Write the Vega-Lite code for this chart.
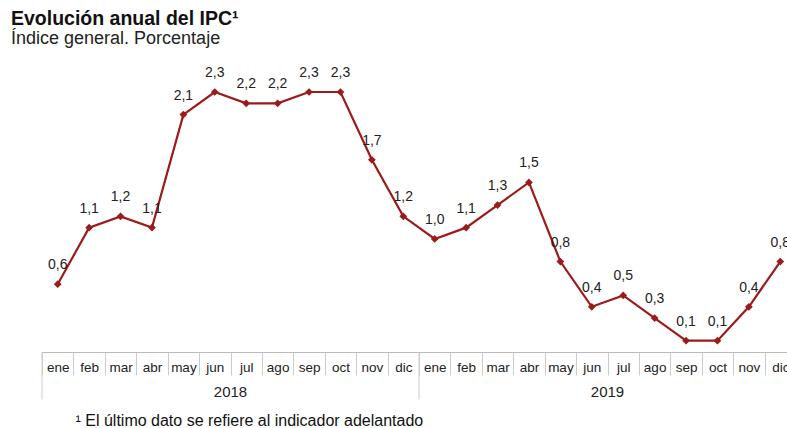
{
  "$schema": "https://vega.github.io/schema/vega-lite/v6.json",
  "width": 754,
  "height": 260,
  "autosize": "none",
  "padding": {"left": 42, "top": 92, "right": 0, "bottom": 76},
  "config": {
    "font": "Liberation Sans",
    "view": {"stroke": null},
    "locale": {"number": {"decimal": ",", "thousands": ".", "grouping": [3], "currency": ["", " €"]}}
  },
  "title": {
    "text": "Evolución anual del IPC¹",
    "subtitle": "Índice general. Porcentaje",
    "anchor": "start",
    "frame": "group",
    "dx": -31,
    "offset": 17,
    "fontSize": 19.5,
    "fontWeight": "bold",
    "color": "#111111",
    "subtitleFontSize": 18,
    "subtitleColor": "#222222",
    "subtitlePadding": 1
  },
  "data": {
    "values": [
      {"key": "2018-ene", "mes": "ene", "year": "2018", "v": 0.6},
      {"key": "2018-feb", "mes": "feb", "year": "2018", "v": 1.1},
      {"key": "2018-mar", "mes": "mar", "year": "2018", "v": 1.2},
      {"key": "2018-abr", "mes": "abr", "year": "2018", "v": 1.1},
      {"key": "2018-may", "mes": "may", "year": "2018", "v": 2.1},
      {"key": "2018-jun", "mes": "jun", "year": "2018", "v": 2.3},
      {"key": "2018-jul", "mes": "jul", "year": "2018", "v": 2.2},
      {"key": "2018-ago", "mes": "ago", "year": "2018", "v": 2.2},
      {"key": "2018-sep", "mes": "sep", "year": "2018", "v": 2.3},
      {"key": "2018-oct", "mes": "oct", "year": "2018", "v": 2.3},
      {"key": "2018-nov", "mes": "nov", "year": "2018", "v": 1.7},
      {"key": "2018-dic", "mes": "dic", "year": "2018", "v": 1.2},
      {"key": "2019-ene", "mes": "ene", "year": "2019", "v": 1.0},
      {"key": "2019-feb", "mes": "feb", "year": "2019", "v": 1.1},
      {"key": "2019-mar", "mes": "mar", "year": "2019", "v": 1.3},
      {"key": "2019-abr", "mes": "abr", "year": "2019", "v": 1.5},
      {"key": "2019-may", "mes": "may", "year": "2019", "v": 0.8},
      {"key": "2019-jun", "mes": "jun", "year": "2019", "v": 0.4},
      {"key": "2019-jul", "mes": "jul", "year": "2019", "v": 0.5},
      {"key": "2019-ago", "mes": "ago", "year": "2019", "v": 0.3},
      {"key": "2019-sep", "mes": "sep", "year": "2019", "v": 0.1},
      {"key": "2019-oct", "mes": "oct", "year": "2019", "v": 0.1},
      {"key": "2019-nov", "mes": "nov", "year": "2019", "v": 0.4},
      {"key": "2019-dic", "mes": "dic", "year": "2019", "v": 0.8}
    ]
  },
  "encoding": {
    "x": {
      "field": "key",
      "type": "ordinal",
      "sort": null,
      "scale": {"paddingInner": 0, "paddingOuter": 0},
      "axis": {
        "title": "¹ El último dato se refiere al indicador adelantado",
        "titleFont": "Liberation Sans",
        "titleFontSize": 16,
        "titleFontWeight": "normal",
        "titleColor": "#111111",
        "titleAnchor": "start",
        "titleAlign": "left",
        "titleBaseline": "middle",
        "titleX": 33,
        "titleY": 68,
        "labelExpr": "split(datum.value, '-')[1]",
        "labelAngle": 0,
        "labelFontSize": 13.5,
        "labelColor": "#222222",
        "labelPadding": -15,
        "tickBand": "extent",
        "tickSize": 23,
        "tickColor": "#cccccc",
        "domainColor": "#bbbbbb",
        "grid": false
      }
    }
  },
  "layer": [
    {
      "mark": {"type": "line", "color": "#9b1b1b", "strokeWidth": 2.2},
      "encoding": {
        "y": {"field": "v", "type": "quantitative", "scale": {"domain": [0, 2.3], "nice": false, "zero": false}, "axis": null}
      }
    },
    {
      "mark": {"type": "point", "shape": "diamond", "filled": true, "opacity": 1, "color": "#9b1b1b", "size": 60},
      "encoding": {
        "y": {"field": "v", "type": "quantitative"}
      }
    },
    {
      "mark": {"type": "text", "fontSize": 14, "color": "#222222", "dy": -19, "baseline": "middle"},
      "encoding": {
        "y": {"field": "v", "type": "quantitative"},
        "text": {"field": "v", "type": "quantitative", "format": ".1f"}
      }
    },
    {
      "transform": [{"filter": "datum.mes == 'ene'"}],
      "mark": {"type": "rule", "color": "#cccccc", "strokeWidth": 1},
      "encoding": {
        "x": {"field": "key", "type": "ordinal", "sort": null, "bandPosition": 0},
        "y": {"datum": 0},
        "y2": {"datum": -0.42}
      }
    },
    {
      "transform": [{"filter": "datum.mes == 'jul'"}],
      "mark": {"type": "text", "fontSize": 15, "color": "#222222", "baseline": "middle", "align": "center"},
      "encoding": {
        "x": {"field": "key", "type": "ordinal", "sort": null, "bandPosition": 0},
        "y": {"datum": -0.35},
        "text": {"field": "year"}
      }
    }
  ]
}
